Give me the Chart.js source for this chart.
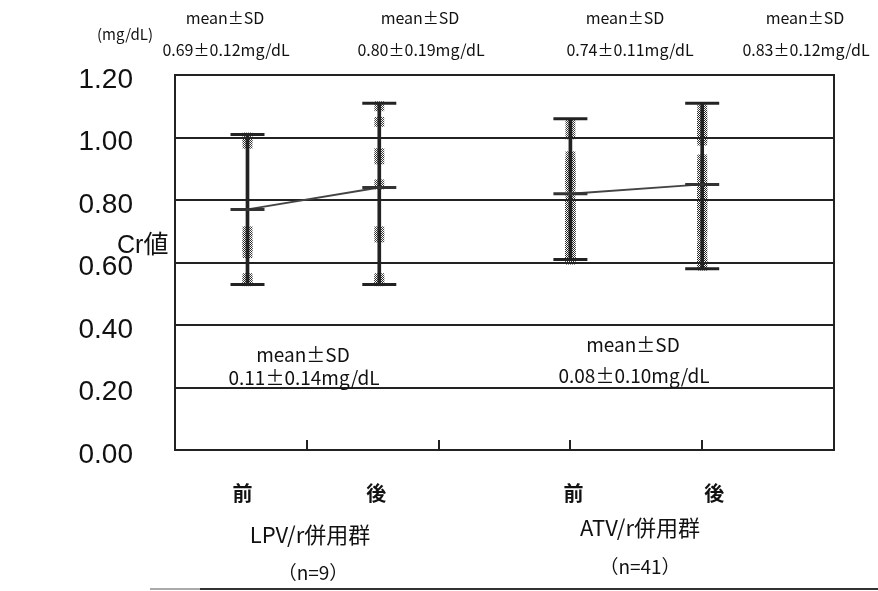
<!DOCTYPE html>
<html>
<head>
<meta charset="utf-8">
<script src="https://cdn.jsdelivr.net/npm/chart.js@4.4.0/dist/chart.umd.min.js"></script>
<style>
  html, body { margin: 0; padding: 0; background: #fff; }
  #box { width: 878px; height: 591px; }
</style>
</head>
<body>
<div id="box"><canvas id="grafico" width="878" height="591"></canvas></div>
<script>
// posicoes no eixo x (5 divisoes) e rotulos
var xPos = [0.55, 1.55, 3, 4];
var catLabels = ['前', '後', '前', '後'];
var groupLabels = ['LPV/r併用群', 'ATV/r併用群'];
var groupN = ['（n=9）', '（n=41）'];

// min / max / media
var minVals = [0.53, 0.53, 0.61, 0.58];
var maxVals = [1.01, 1.11, 1.06, 1.11];
var meanVals = [0.77, 0.84, 0.82, 0.85];

// textos de media +- DP
var topStats = ['0.69±0.12mg/dL', '0.80±0.19mg/dL', '0.74±0.11mg/dL', '0.83±0.12mg/dL'];
var diffStats = ['0.11±0.14mg/dL', '0.08±0.10mg/dL'];

// pontos individuais
var ptsLpvPre = [1.00, 0.98, 0.70, 0.68, 0.66, 0.65, 0.63, 0.55, 0.54];
var ptsLpvPos = [1.10, 1.05, 0.95, 0.93, 0.85, 0.70, 0.68, 0.55, 0.54];
var ptsAtvPre = [1.04, 1.01, 0.94, 0.92, 0.91, 0.90, 0.89, 0.88, 0.87, 0.86, 0.85, 0.84,
  0.80, 0.79, 0.78, 0.78, 0.77, 0.76, 0.76, 0.75, 0.74, 0.74, 0.73, 0.72, 0.72, 0.71,
  0.71, 0.70, 0.70, 0.69, 0.68, 0.67, 0.66, 0.65, 0.64, 0.64, 0.63, 0.62, 0.62, 0.61, 0.61];
var ptsAtvPos = [1.09, 1.07, 1.06, 1.05, 1.04, 1.03, 1.02, 1.01, 1.00, 0.99, 0.93, 0.91,
  0.90, 0.88, 0.86, 0.85, 0.84, 0.83, 0.82, 0.82, 0.81, 0.80, 0.80, 0.79, 0.78, 0.77,
  0.76, 0.75, 0.73, 0.72, 0.71, 0.70, 0.69, 0.66, 0.65, 0.64, 0.62, 0.61, 0.60, 0.60, 0.59];

var yMin = 0, yMax = 1.2, yStep = 0.2;

function pontos(idx, vals) {
  return vals.map(function (v) { return { x: xPos[idx], y: v }; });
}

var caps = [];
for (var i = 0; i < xPos.length; i++) {
  caps.push({ x: xPos[i], y: minVals[i] });
  caps.push({ x: xPos[i], y: maxVals[i] });
}

// padrao de reticula (pontos cinza)
var pc = document.createElement('canvas');
pc.width = 2; pc.height = 2;
var pctx = pc.getContext('2d');
pctx.fillStyle = 'rgba(40,40,40,0.9)';
pctx.fillRect(0, 0, 1, 1);
pctx.fillRect(1, 1, 1, 1);
var reticula = pctx.createPattern(pc, 'repeat');

var jp = "'Noto Sans CJK JP', 'Noto Sans', sans-serif";

// textos, borda e marcas do eixo x
var textos = {
  id: 'textos',
  afterDraw: function (chart) {
    var ctx = chart.ctx;
    var a = chart.chartArea;
    var sx = chart.scales.x;
    ctx.save();
    ctx.strokeStyle = '#222';
    ctx.lineWidth = 2;
    ctx.strokeRect(a.left, a.top, a.right - a.left, a.bottom - a.top);

    // marcas do eixo x
    for (var t = 1; t <= 4; t++) {
      var px = Math.round(sx.getPixelForValue(t));
      ctx.beginPath();
      ctx.moveTo(px, a.bottom);
      ctx.lineTo(px, a.bottom - 10);
      ctx.stroke();
    }

    ctx.fillStyle = '#111';
    ctx.textAlign = 'center';
    ctx.textBaseline = 'middle';

    ctx.font = '15px ' + jp;
    ctx.fillText('(mg/dL)', 125, 34);
    var topX = [225, 420, 625, 805];
    var valX = [226, 421, 630, 806];
    ctx.font = '16px ' + jp;
    for (var k = 0; k < 4; k++) {
      ctx.fillText('mean±SD', topX[k], 18);
      ctx.fillText(topStats[k], valX[k], 50);
    }

    ctx.font = '19px ' + jp;
    ctx.fillText('mean±SD', 303, 355);
    ctx.fillText(diffStats[0], 304, 378);
    ctx.fillText('mean±SD', 633, 345);
    ctx.fillText(diffStats[1], 634, 376);

    ctx.textAlign = 'left';
    ctx.font = "25px 'Liberation Sans', 'Noto Sans CJK JP', sans-serif";
    ctx.fillText('Cr値', 117, 246);

    ctx.textAlign = 'center';
    ctx.font = 'bold 20px ' + jp;
    var dx = [-5, -3, 3, 12];
    for (var c = 0; c < catLabels.length; c++) {
      ctx.fillText(catLabels[c], sx.getPixelForValue(xPos[c]) + dx[c], 493);
    }
    ctx.font = '22px ' + jp;
    ctx.fillText(groupLabels[0], 310, 535);
    ctx.fillText(groupLabels[1], 640, 528);
    ctx.font = '19px ' + jp;
    ctx.fillText(groupN[0], 313, 573);
    ctx.fillText(groupN[1], 640, 567);

    // linha inferior
    ctx.strokeStyle = '#aaa';
    ctx.lineWidth = 2;
    ctx.beginPath();
    ctx.moveTo(150, 589);
    ctx.lineTo(200, 589);
    ctx.stroke();
    ctx.strokeStyle = '#333';
    ctx.beginPath();
    ctx.moveTo(200, 589);
    ctx.lineTo(878, 589);
    ctx.stroke();
    ctx.restore();
  }
};

function pontoDataset(idx, vals) {
  return {
    type: 'scatter',
    data: pontos(idx, vals),
    pointStyle: 'rect',
    pointRadius: 7,
    backgroundColor: reticula,
    borderWidth: 0,
    order: 5
  };
}

var ctx = document.getElementById('grafico').getContext('2d');
var chart = new Chart(ctx, {
  type: 'bar',
  data: {
    datasets: [
      {
        type: 'bar',
        data: xPos.map(function (x, i) { return { x: x, y: [minVals[i], maxVals[i]] }; }),
        backgroundColor: '#222',
        barThickness: 3,
        grouped: false,
        order: 2
      },
      {
        type: 'scatter',
        data: caps,
        pointStyle: 'line',
        pointRadius: 17,
        borderColor: '#222',
        borderWidth: 3,
        order: 1
      },
      {
        type: 'line',
        data: [{ x: xPos[0], y: meanVals[0] }, { x: xPos[1], y: meanVals[1] }],
        borderColor: '#444',
        borderWidth: 2,
        pointStyle: 'line',
        pointRadius: 17,
        pointBorderWidth: 3,
        pointBorderColor: '#333',
        order: 0
      },
      {
        type: 'line',
        data: [{ x: xPos[2], y: meanVals[2] }, { x: xPos[3], y: meanVals[3] }],
        borderColor: '#444',
        borderWidth: 2,
        pointStyle: 'line',
        pointRadius: 17,
        pointBorderWidth: 3,
        pointBorderColor: '#333',
        order: 0
      },
      pontoDataset(0, ptsLpvPre),
      pontoDataset(1, ptsLpvPos),
      pontoDataset(2, ptsAtvPre),
      pontoDataset(3, ptsAtvPos)
    ]
  },
  options: {
    responsive: false,
    animation: false,
    layout: { padding: { left: 0, top: 75, right: 44, bottom: 141 } },
    plugins: {
      legend: { display: false },
      tooltip: { enabled: false }
    },
    scales: {
      x: {
        type: 'linear',
        min: 0,
        max: 5,
        offset: false,
        display: false
      },
      y: {
        min: yMin,
        max: yMax,
        afterFit: function (scale) { scale.width = 175; },
        grid: { color: '#222', lineWidth: 2, drawTicks: false },
        border: { display: true, color: '#222', width: 2 },
        ticks: {
          stepSize: yStep,
          padding: 42,
          labelOffset: 5,
          color: '#111',
          font: { family: "'Liberation Sans', Arial, sans-serif", size: 28 },
          callback: function (v) { return v.toFixed(2); }
        }
      }
    }
  },
  plugins: [textos]
});
</script>
</body>
</html>
